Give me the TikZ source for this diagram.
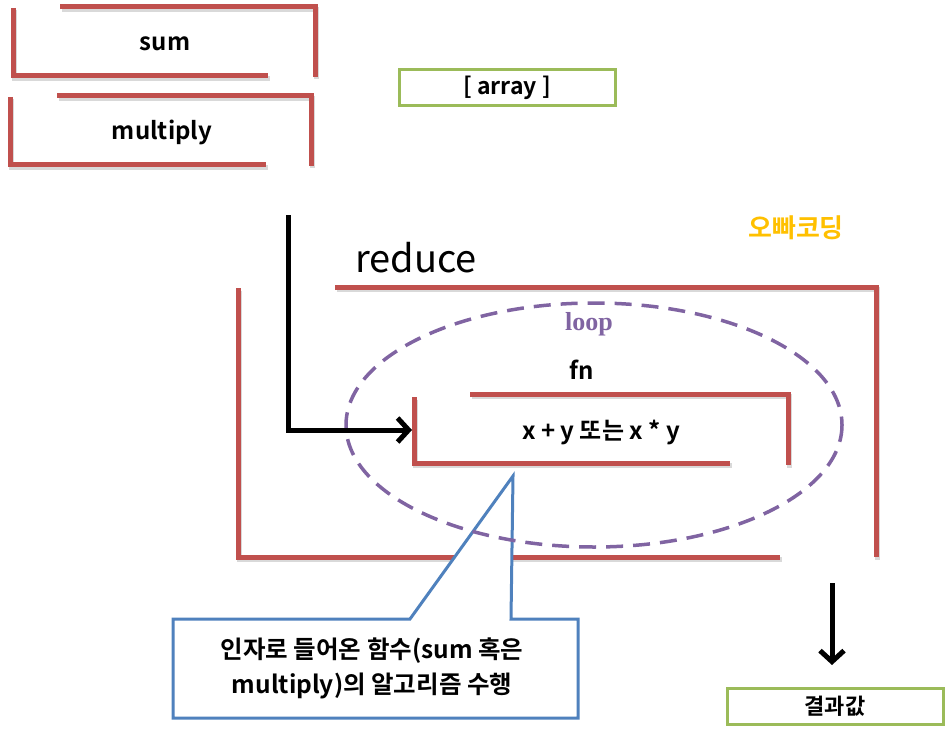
\documentclass[tikz,border=0pt]{standalone}
\usepackage{fontspec}
\setmainfont{Noto Sans CJK KR}[BoldFont={Noto Sans CJK KR Bold}]
\newfontfamily\loopfont{Liberation Serif}
\usetikzlibrary{arrows.meta}
\definecolor{framered}{HTML}{C0504D}
\definecolor{boxgreen}{HTML}{9BBB59}
\definecolor{callblue}{HTML}{4F81BD}
\definecolor{looppurple}{HTML}{8064A2}
\definecolor{brandorange}{HTML}{FFC000}
\tikzset{
  frame/.style={draw=framered, line width=5pt,
                preaction={draw=black!15, line width=5pt,
                           transform canvas={shift={(1.5pt,-2.5pt)}}}},
  txt/.style={font=\bfseries\fontsize{24}{28}\selectfont, inner sep=0pt},
  greenbox/.style={draw=boxgreen, line width=3pt, minimum width=216pt,
                   minimum height=36pt, inner sep=0pt,
                   font=\bfseries\fontsize{22}{26}\selectfont},
  flowarrow/.style={-{Straight Barb[length=11pt,width=24pt]}, line width=5pt},
}
\begin{document}
\begin{tikzpicture}[x=1pt, y=-1pt]
    \useasboundingbox (0,0) rectangle (947,730);
    % function boxes
    \draw[frame] (13,8) -- (13,76) -- (268,76);
    \draw[frame] (60,7) -- (315,7) -- (315,77);
    \node[txt] (sum) at (165,44) {sum};
    \draw[frame] (10,97) -- (10,165) -- (266,165);
    \draw[frame] (57,96) -- (311,96) -- (311,166);
    \node[txt] (mul) at (162,132) {multiply};
    \node[greenbox, font=\bfseries\fontsize{23}{27}\selectfont] (arr) at (507,88) {[ array ]};
    \node[font=\bfseries\fontsize{26}{30}\selectfont, text=brandorange] (brand) at (796,228) {오빠코딩};
    % reduce
    \node[font=\fontsize{38}{44}\selectfont, inner sep=0pt] (red) at (416,258) {reduce};
    \draw[frame] (335,287) -- (876,287) -- (876,557);
    \draw[frame] (238,288) -- (238,557) -- (780,557);
    \draw[frame] (414,397) -- (414,463) -- (730,463);
    \draw[frame] (470,394) -- (788,394) -- (788,465);
    \node[txt] (fn) at (582,370) {fn};
    \node[txt] (op) at (601,432) {x + y 또는 x * y};
    % callout
    \draw[callblue, line width=3pt, fill=white, line join=miter]
      (173,619) -- (410,619) -- (513,476) -- (511,619) -- (578,619)
      -- (578,718) -- (173,718) -- cycle;
    \node[txt, align=center, font=\bfseries\fontsize{24.5}{35}\selectfont] (note) at (372,668)
      {인자로 들어온 함수(sum 혹은\\multiply)의 알고리즘 수행};
    \draw[looppurple, line width=3.5pt, dash pattern=on 17pt off 10pt]
      (594,425) ellipse [x radius=248, y radius=122];
    \node[text=looppurple, font=\loopfont\bfseries\fontsize{26}{30}\selectfont] (loop) at (589,324) {loop};
    % flow
    \coordinate (start) at (288,215);
    \coordinate (fnin) at (412,430);
    \draw[flowarrow] (start) |- (fnin);
    \node[greenbox] (result) at (835,706) {결과값};
    \coordinate (out) at (832,583);
    \coordinate (resin) at (832,665);
    \draw[flowarrow] (out) -- (resin);
\end{tikzpicture}
\end{document}
